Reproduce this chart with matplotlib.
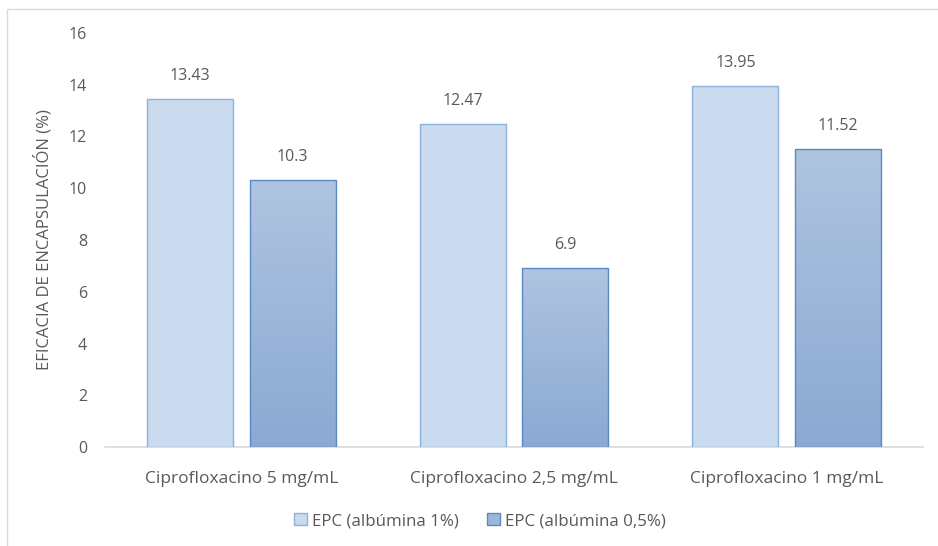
import matplotlib
matplotlib.use("Agg")
import matplotlib.pyplot as plt
import numpy as np
from matplotlib.patches import Rectangle, Patch
from matplotlib.colors import LinearSegmentedColormap

categories = ["Ciprofloxacino 5 mg/mL", "Ciprofloxacino 2,5 mg/mL", "Ciprofloxacino 1 mg/mL"]
series_names = ["EPC (albúmina 1%)", "EPC (albúmina 0,5%)"]
vals_1 = [13.43, 12.47, 13.95]
vals_05 = [10.3, 6.9, 11.52]
labels_1 = ["13.43", "12.47", "13.95"]
labels_05 = ["10.3", "6.9", "11.52"]
yticks = [0, 2, 4, 6, 8, 10, 12, 14, 16]

plt.rcParams['font.family'] = ['Open Sans', 'DejaVu Sans']
txt = '#595959'

fig = plt.figure(figsize=(9.38, 5.46), dpi=100)
ax = fig.add_axes([105/938, 1-447/546, 818/938, 414/546])

x = np.arange(len(categories))
w = 0.315
off = 0.188

light_fill = '#CADBEF'
light_edge = '#8EB0DC'
dark_edge = '#5A8AC6'
cmap = LinearSegmentedColormap.from_list('g', ['#8BA9D3', '#AFC4E0'])

b1 = ax.bar(x - off, vals_1, w, color=light_fill, edgecolor=light_edge, linewidth=1.0, zorder=3)
b2 = ax.bar(x + off, vals_05, w, color='none', edgecolor=dark_edge, linewidth=1.0, zorder=4)
grad = np.linspace(0, 1, 256).reshape(-1, 1)
for rect in b2:
    x0, y0 = rect.get_x(), rect.get_y()
    h = rect.get_height()
    im = ax.imshow(grad, cmap=cmap, aspect='auto', origin='lower',
                   extent=[x0, x0 + rect.get_width(), y0, y0 + h], zorder=3)
    im.set_clip_path(rect)

for i in range(len(categories)):
    ax.annotate(labels_1[i], (x[i] - off, vals_1[i]), xytext=(0, 11), textcoords='offset points',
                ha='center', va='bottom', fontsize=11.5, color=txt)
    ax.annotate(labels_05[i], (x[i] + off, vals_05[i]), xytext=(0, 11), textcoords='offset points',
                ha='center', va='bottom', fontsize=11.5, color=txt)

ax.set_xlim(-0.5, 2.5)
ax.set_ylim(0, 16)
ax.set_yticks(yticks)
ax.set_yticklabels([str(t) for t in yticks], fontsize=11.5, color=txt)
ax.set_xticks(x)
ax.set_xticklabels(categories, fontsize=12.5, color=txt)
ax.tick_params(axis='x', length=0, pad=17)
ax.tick_params(axis='y', length=0, pad=13)
for s in ['top', 'right', 'left']:
    ax.spines[s].set_visible(False)
ax.spines['bottom'].set_color('#D9D9D9')
ax.spines['bottom'].set_linewidth(1.2)
ax.set_ylabel("EFICACIA DE ENCAPSULACIÓN (%)", fontsize=12, color=txt, labelpad=12)

handles = [Patch(facecolor=light_fill, edgecolor=light_edge),
           Patch(facecolor='#9DB7DA', edgecolor=dark_edge)]
fig.legend(handles, series_names, loc='center', bbox_to_anchor=(480/938, 1-521/546),
           ncol=2, frameon=False, fontsize=12.2, labelcolor=txt, handlelength=0.75,
           handleheight=0.75, handletextpad=0.3, columnspacing=1.7)

fig.patches.append(Rectangle((7/938, -0.01), 1.0, 1 - 9/546 + 0.01, transform=fig.transFigure,
                             fill=False, edgecolor='#D9D9D9', linewidth=1.0))

fig.savefig('out.png', dpi=100)
